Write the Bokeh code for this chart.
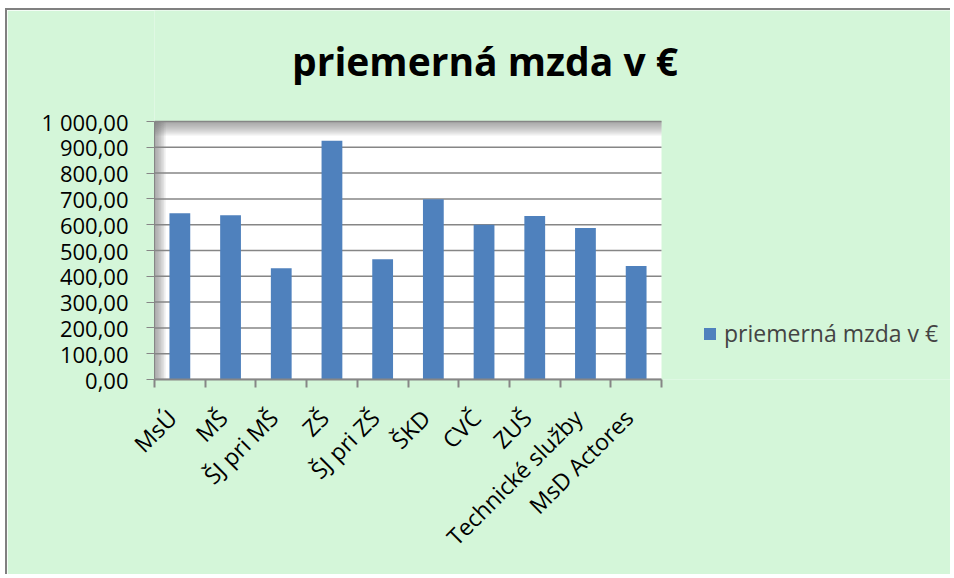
import math
from bokeh.plotting import figure
from bokeh.models import (ColumnDataSource, FixedTicker, Legend, LegendItem,
                          Label, BoxAnnotation)
from bokeh.embed import file_html
from bokeh.resources import INLINE

# ---- data ----
categories = ["MsÚ", "MŠ", "ŠJ pri MŠ", "ZŠ", "ŠJ pri ZŠ", "ŠKD", "CVČ",
              "ZUŠ", "Technické služby", "MsD Actores"]
values = [644, 637, 431, 925, 466, 699, 600, 634, 587, 440]
y_ticks = [0, 100, 200, 300, 400, 500, 600, 700, 800, 900, 1000]
y_tick_labels = ["0,00", "100,00", "200,00", "300,00", "400,00", "500,00",
                 "600,00", "700,00", "800,00", "900,00", "1 000,00"]
series_name = "priemerná mzda v €"
title_text = "priemerná mzda v €"

FONT = "Open Sans"
BG = "#d4f6d9"
BAR = "#4f81bd"
GRID = "#868686"

n = len(categories)
y_max = y_ticks[-1]
x_centers = [i + 0.5 for i in range(n)]
label_pos = [c - 0.15 for c in x_centers]   # slight left shift of rotated labels
src = ColumnDataSource(dict(x=x_centers, top=values, cat=categories))

# layout (pixels): the frame spans the whole figure to the right and top so the
# legend and title can sit inside it; the white plot area covers 0..n, 0..y_max
AREA_LEFT, AREA_RIGHT, AREA_TOP, AREA_BOTTOM = 154.0, 661.0, 121.0, 379.0
FRAME_RIGHT, FRAME_TOP = 952.0, 10.0
x_end = n * (FRAME_RIGHT - AREA_LEFT) / (AREA_RIGHT - AREA_LEFT)
y_end = y_max * (AREA_BOTTOM - FRAME_TOP) / (AREA_BOTTOM - AREA_TOP)
px_x = n / (AREA_RIGHT - AREA_LEFT)
px_y = y_max / (AREA_BOTTOM - AREA_TOP)

p = figure(width=945, height=566, x_range=(0, x_end), y_range=(0, y_end),
           output_backend="svg", toolbar_location=None,
           min_border_left=147, min_border_right=0,
           min_border_top=0, min_border_bottom=197)
p.styles = {"border-top": "2px solid #808080", "border-left": "2px solid #808080",
            "margin-left": "5px", "margin-top": "8px"}
p.border_fill_color = BG
p.background_fill_color = BG
p.outline_line_color = None

# white plot area
p.add_layout(BoxAnnotation(left=0, right=n, bottom=0, top=y_max,
                           fill_color="white", fill_alpha=1.0,
                           line_color=None, level="underlay"))
# inner shadow of the plot area (decorative)
for k in range(7):
    p.add_layout(BoxAnnotation(left=0, right=n,
                               bottom=y_max - (k + 1) * 2 * px_y, top=y_max,
                               fill_color="#707070", fill_alpha=0.11,
                               line_color=None, level="underlay"))
    p.add_layout(BoxAnnotation(left=0, right=(k + 1) * 1.6 * px_x,
                               bottom=0, top=y_max,
                               fill_color="#707070", fill_alpha=0.11,
                               line_color=None, level="underlay"))

# horizontal gridlines limited to the plot area
p.segment(x0=[0] * len(y_ticks), x1=[n] * len(y_ticks), y0=y_ticks, y1=y_ticks,
          line_color=GRID, line_width=1.5)

r = p.vbar(x="x", top="top", width=0.41, source=src, fill_color=BAR,
           line_color=None)

# title (inside the frame, above the plot area)
p.add_layout(Label(x=(484.5 - AREA_LEFT) * px_x, y=(AREA_BOTTOM - 60) * px_y,
                   text=title_text, text_font=FONT, text_font_size="39px",
                   text_font_style="bold", text_color="black",
                   text_align="center", text_baseline="alphabetic"))

# y axis
ya = p.yaxis[0]
ya.bounds = (0, y_max)
ya.ticker = FixedTicker(ticks=y_ticks, minor_ticks=[])
ya.major_label_overrides = {v: s for v, s in zip(y_ticks, y_tick_labels)}
ya.major_label_text_font = FONT
ya.major_label_text_font_size = "22px"
ya.major_label_text_color = "black"
ya.major_tick_out = 8
ya.major_tick_in = 0
ya.major_tick_line_color = GRID
ya.axis_line_color = GRID
ya.major_label_standoff = 18

# x axis
xa = p.xaxis[0]
xa.bounds = (0, n)
xa.ticker = FixedTicker(ticks=label_pos, minor_ticks=list(range(n + 1)))
xa.major_label_overrides = {v: s for v, s in zip(label_pos, categories)}
xa.major_label_orientation = math.pi / 4
xa.major_label_text_font = FONT
xa.major_label_text_font_size = "23px"
xa.major_label_text_color = "black"
xa.major_tick_out = 0
xa.major_tick_in = 0
xa.minor_tick_out = 8
xa.minor_tick_in = 0
xa.minor_tick_line_color = GRID
xa.minor_tick_line_width = 2
xa.axis_line_color = GRID
xa.axis_line_width = 2
xa.major_label_standoff = 26

p.xgrid.grid_line_color = None
p.ygrid.grid_line_color = None

legend = Legend(items=[LegendItem(label=series_name, renderers=[r])],
                location=(548, 30), glyph_width=15, glyph_height=15,
                label_standoff=7, padding=0, margin=0,
                label_text_font=FONT, label_text_font_size="23px",
                background_fill_alpha=0, border_line_color=None)
p.add_layout(legend, "center")

open("out.html", "w").write(file_html(p, INLINE))
